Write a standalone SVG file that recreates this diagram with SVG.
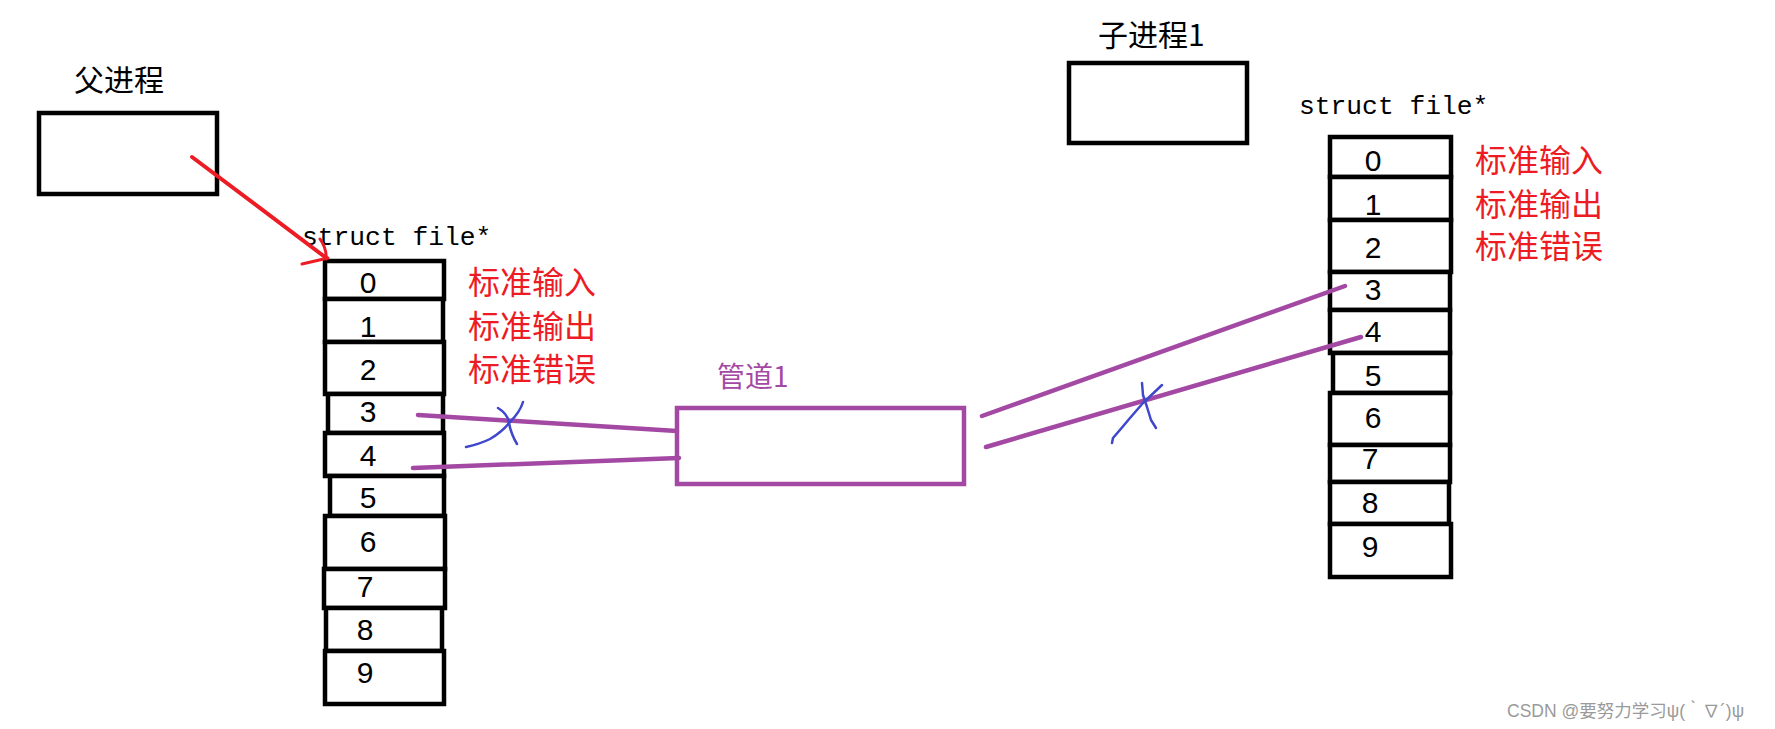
<svg xmlns="http://www.w3.org/2000/svg" width="1775" height="729" viewBox="0 0 1775 729">
<style>
.box{fill:#fff;stroke:#000;stroke-width:4.5}
.cjk{font-family:"Microsoft YaHei","Noto Sans CJK SC",sans-serif}
.lbl{font-size:30px;fill:#000}
.red{font-size:32px;fill:#ED1C24}
.mono{font-family:"Liberation Mono","DejaVu Sans Mono",monospace;font-size:26.3px;fill:#000}
.dig{font-family:"Liberation Sans",Arial,sans-serif;font-size:30px;fill:#000;text-anchor:middle}
.pl{fill:none;stroke:#A349A4;stroke-width:4.5;stroke-linecap:round}
.bl{fill:none;stroke:#3F48CC;stroke-width:2.5;stroke-linecap:round;stroke-linejoin:round}
.rd{fill:none;stroke:#ED1C24;stroke-linecap:round;stroke-linejoin:round}
</style>
<rect width="1775" height="729" fill="#fff"/>

<g id="parent">
<text x="74" y="91" class="cjk lbl" font-size="31">父进程</text>
<rect x="39" y="113" width="178" height="81" class="box"/>
</g>

<g id="child">
<text x="1098" y="46" class="cjk lbl">子进程1</text>
<rect x="1069" y="63" width="178" height="80" class="box"/>
</g>

<g id="table-left">
<text x="302" y="245" class="mono">struct file*</text>
<rect x="325" y="261" width="119" height="38" class="box"/>
<rect x="325" y="299" width="118" height="43" class="box"/>
<rect x="325" y="342" width="119" height="52" class="box"/>
<rect x="328" y="394" width="115" height="39" class="box"/>
<rect x="325" y="433" width="119" height="43" class="box"/>
<rect x="330" y="476" width="114" height="40" class="box"/>
<rect x="325" y="516" width="120" height="53" class="box"/>
<rect x="324" y="569" width="121" height="39" class="box"/>
<rect x="326" y="608" width="116" height="43" class="box"/>
<rect x="325" y="651" width="119" height="53" class="box"/>
<text x="368" y="293" class="dig">0</text>
<text x="368" y="337" class="dig">1</text>
<text x="368" y="380" class="dig">2</text>
<text x="368" y="422" class="dig">3</text>
<text x="368" y="466" class="dig">4</text>
<text x="368" y="508" class="dig">5</text>
<text x="368" y="552" class="dig">6</text>
<text x="365" y="597" class="dig">7</text>
<text x="365" y="640" class="dig">8</text>
<text x="365" y="683" class="dig">9</text>
<text x="468" y="294" class="cjk red">标准输入</text>
<text x="468" y="338" class="cjk red">标准输出</text>
<text x="468" y="381" class="cjk red">标准错误</text>
</g>

<g id="table-right">
<text x="1299" y="114" class="mono">struct file*</text>
<rect x="1330" y="137" width="121" height="40" class="box"/>
<rect x="1330" y="177" width="121" height="43" class="box"/>
<rect x="1330" y="220" width="121" height="52" class="box"/>
<rect x="1330" y="272" width="120" height="38" class="box"/>
<rect x="1330" y="310" width="120" height="43" class="box"/>
<rect x="1333" y="353" width="117" height="40" class="box"/>
<rect x="1330" y="393" width="120" height="52" class="box"/>
<rect x="1330" y="445" width="120" height="37" class="box"/>
<rect x="1330" y="482" width="119" height="42" class="box"/>
<rect x="1330" y="524" width="121" height="53" class="box"/>
<text x="1373" y="171" class="dig">0</text>
<text x="1373" y="215" class="dig">1</text>
<text x="1373" y="258" class="dig">2</text>
<text x="1373" y="300" class="dig">3</text>
<text x="1373" y="342" class="dig">4</text>
<text x="1373" y="386" class="dig">5</text>
<text x="1373" y="428" class="dig">6</text>
<text x="1370" y="469" class="dig">7</text>
<text x="1370" y="513" class="dig">8</text>
<text x="1370" y="557" class="dig">9</text>
<text x="1475" y="172" class="cjk red">标准输入</text>
<text x="1475" y="216" class="cjk red">标准输出</text>
<text x="1475" y="258" class="cjk red">标准错误</text>
</g>

<g id="pipe">
<text x="717" y="387" class="cjk" font-size="28" fill="#A349A4">管道1</text>
<rect x="677" y="408" width="287" height="76" fill="#fff" stroke="#A349A4" stroke-width="4.5"/>
</g>

<g id="connectors">
<line x1="192" y1="157" x2="325" y2="257" class="rd" stroke-width="4"/>
<path d="M320,239 Q327,249 326,259 M302,264 L328,258" class="rd" stroke-width="3"/>
<line x1="418" y1="415" x2="677" y2="431" class="pl"/>
<line x1="413" y1="468" x2="679" y2="458" class="pl"/>
<line x1="982" y1="416" x2="1345" y2="286" class="pl"/>
<line x1="986" y1="447" x2="1361" y2="337" class="pl"/>
<path d="M466,447 Q480,444 490,439 Q502,432 510,422 Q520,412 523,402" class="bl"/>
<path d="M498,408 Q508,414 509,423 Q511,434 517,444" class="bl"/>
<path d="M1112,443 L1113,438 Q1120,430 1130,418 L1143,403 L1162,385" class="bl"/>
<path d="M1142,383 L1143,395 L1147,407 L1151,420 L1156,428" class="bl"/>
</g>

<text x="1507" y="717" font-family="Arial,'Liberation Sans','Noto Sans CJK SC',sans-serif" font-size="17.5" fill="#9a9a9a">CSDN @要努力学习ψ(｀∇´)ψ</text>
</svg>
